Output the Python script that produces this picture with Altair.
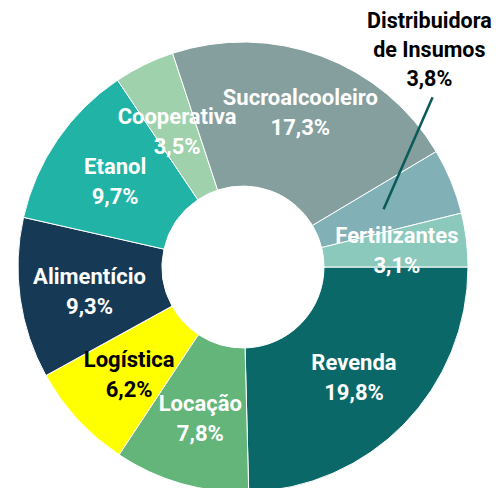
import math
import altair as alt
import pandas as pd

categories = ["Revenda", "Locação", "Logística", "Alimentício", "Etanol",
              "Cooperativa", "Sucroalcooleiro", "Distribuidora de Insumos", "Fertilizantes"]
values = [19.8, 7.8, 6.2, 9.3, 9.7, 3.5, 17.3, 3.8, 3.1]
colors = ["#0A6868", "#63B57A", "#FFFF00", "#163A55", "#21B3A5",
          "#9FD1AC", "#859E9E", "#82B0B7", "#8BC9BD"]
label_colors = ["white", "white", "black", "white", "white",
                "white", "white", "black", "white"]
outside = "Distribuidora de Insumos"

pcts = [f"{v:.1f}".replace(".", ",") + "%" for v in values]
full = [c + "\n" + p for c, p in zip(categories, pcts)]
df = pd.DataFrame({
    "idx": list(range(len(categories))),
    "cat": categories,
    "value": values,
    "tcolor": label_colors,
    "lab_main": [("" if c in (outside, "Sucroalcooleiro", "Cooperativa") else f)
                 for c, f in zip(categories, full)],
    "lab_sucro": [(f if c == "Sucroalcooleiro" else "") for c, f in zip(categories, full)],
    "lab_coop": [(f if c == "Cooperativa" else "") for c, f in zip(categories, full)],
    "outlabel": [("Distribuidora\nde Insumos\n" + p if c == outside else "")
                 for c, p in zip(categories, pcts)],
})

CX, CY = 235, 259
FONT = "Roboto"

base = alt.Chart(df).encode(
    theta=alt.Theta("value:Q", stack=True,
                    scale=alt.Scale(range=[math.pi / 2, math.pi / 2 + 2 * math.pi])),
    order=alt.Order("idx:Q"),
    x=alt.value(CX),
    y=alt.value(CY),
)

arcs = base.mark_arc(outerRadius=225, innerRadius=81, stroke="white", strokeWidth=1).encode(
    color=alt.Color("cat:N", scale=alt.Scale(domain=categories, range=colors), legend=None)
)


def label_layer(field, radius, dy=-15):
    return base.mark_text(radius=radius, dy=dy, font=FONT, fontSize=22, fontWeight="bold",
                          lineBreak="\n", lineHeight=30, align="center",
                          baseline="middle").encode(
        text=f"{field}:N",
        color=alt.Color("tcolor:N", scale=None),
    )


inside_main = label_layer("lab_main", 155, -12)
inside_sucro = label_layer("lab_sucro", 164)
inside_coop = label_layer("lab_coop", 150)

outside_txt = base.mark_text(radius=155, dx=43, dy=-186, font=FONT, fontSize=21.5,
                             fontWeight="bold", lineBreak="\n", lineHeight=29,
                             align="center", baseline="middle", color="black").encode(
    text="outlabel:N",
)

leader = alt.Chart(df).transform_joinaggregate(
    total="sum(value)"
).transform_window(
    cum="sum(value)", sort=[alt.SortField("idx")], frame=[None, 0]
).transform_calculate(
    mid="PI/2 + 2*PI*(datum.cum - datum.value/2)/datum.total",
).transform_calculate(
    x1=f"{CX} + 152*sin(datum.mid)",
    y1=f"{CY} - 152*cos(datum.mid)",
).transform_calculate(
    x2="datum.x1 + 49",
    y2="datum.y1 - 112",
).transform_filter(
    alt.datum.cat == outside
).mark_rule(color="#0A5A5A", strokeWidth=2.5).encode(
    x=alt.X("x1:Q", scale=None),
    y=alt.Y("y1:Q", scale=None),
    x2="x2:Q",
    y2="y2:Q",
)

chart = alt.layer(arcs, leader, inside_main, inside_sucro, inside_coop, outside_txt).properties(
    width=487, height=480, padding=0,
    autosize=alt.AutoSizeParams(type="none"),
).configure_view(stroke=None)

chart.save("out.html", embed_options={"renderer": "svg", "actions": False})
